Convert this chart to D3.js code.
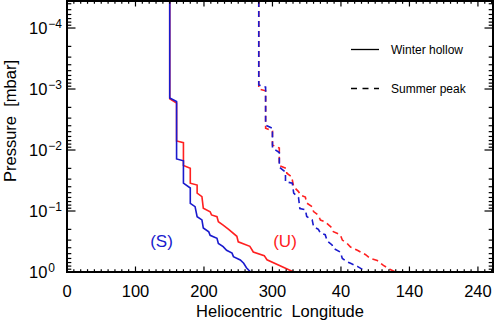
<!DOCTYPE html>
<html>
<head>
<meta charset="utf-8">
<script src="https://cdn.jsdelivr.net/npm/d3@7"></script>
<style>
  body { margin: 0; background: #fff; }
  svg { display: block; }
  text { font-family: "Liberation Sans", Arial, sans-serif; fill: #000; }
</style>
</head>
<body>
<div id="chart"></div>
<script>

// Axis ticks: longitude runs past 360, labels wrap back
var lsTicks = [0, 100, 200, 300, 400, 500, 600];
var lsTickLabels = ["0", "100", "200", "300", "40", "140", "240"];
var pTicks = [1e-4, 1e-3, 1e-2, 1e-1, 1];
var pTickExps = ["\u22124", "\u22123", "\u22122", "\u22121", "0"];

// [Ls, pressure (mbar)] vertices
// winter hollow (solid)
var winterS = [[150, 3.6e-5], [150, 1.4e-3], [160, 1.6e-3], [160, 1.4e-2], [170, 1.5e-2],
               [170, 3.5e-2], [180, 4.2e-2], [180, 7.5e-2], [187, 8.5e-2], [190, 0.124],
               [197, 0.14], [199, 0.19], [207, 0.22], [209, 0.25], [219, 0.28], [221, 0.34],
               [228, 0.385], [233, 0.44], [241, 0.49], [243, 0.56], [253, 0.635],
               [258, 0.72], [262, 0.85], [268, 1.0]];
var winterU = [[150, 3.6e-5], [150, 1.45e-3], [160, 1.7e-3], [160, 7.1e-3], [170, 7.6e-3],
               [170, 1.8e-2], [180, 2.0e-2], [180, 3.5e-2], [190, 3.75e-2], [190, 5.1e-2],
               [197, 5.8e-2], [199, 9.0e-2], [209, 0.103], [211, 0.116], [219, 0.124],
               [221, 0.15], [228, 0.17], [236, 0.20], [248, 0.26], [250, 0.32],
               [267, 0.38], [272, 0.47], [288, 0.54], [292, 0.63], [331, 1.0]];
// summer peak (dashed)
var summerS = [[280, 3.6e-5], [280, 8.6e-4], [290, 9.3e-4], [290, 3.9e-3], [300, 4.4e-3],
               [300, 9.3e-3], [310, 1.1e-2], [310, 1.9e-2], [319, 2.3e-2], [319, 3.3e-2],
               [329, 3.5e-2], [331, 5.1e-2], [338, 6.0e-2], [340, 9.1e-2], [348, 9.5e-2],
               [350, 0.123], [358, 0.14], [360, 0.18], [367, 0.20], [370, 0.23],
               [377, 0.245], [380, 0.31], [387, 0.36], [389, 0.41], [399, 0.47],
               [402, 0.60], [409, 0.68], [414, 0.72], [424, 0.81], [438, 1.0]];
var summerU = [[280, 3.6e-5], [280, 1.0e-3], [290, 1.07e-3], [290, 4.4e-3], [300, 4.9e-3],
               [300, 8.3e-3], [310, 9.3e-3], [310, 1.8e-2], [320, 2.0e-2], [321, 2.4e-2],
               [328, 2.75e-2], [331, 4.0e-2], [338, 4.8e-2], [341, 5.5e-2], [348, 5.9e-2],
               [350, 7.4e-2], [358, 8.5e-2], [360, 0.102], [367, 0.117], [370, 0.141],
               [377, 0.151], [387, 0.19], [389, 0.219], [399, 0.245], [402, 0.30],
               [409, 0.34], [414, 0.39], [424, 0.44], [436, 0.52], [443, 0.60],
               [453, 0.65], [462, 0.78], [472, 0.91], [480, 1.0]];

var series = [
    { data: winterU, colour: "#ff2020", dash: null },
    { data: winterS, colour: "#1a1acd", dash: null },
    { data: summerU, colour: "#ff2020", dash: "6,4" },
    { data: summerS, colour: "#1a1acd", dash: "6,4" }
];

var W = 498, H = 320;
var pLeft = 67, pRight = 493, pTop = 1, pBottom = 272;

var x = d3.scaleLinear().domain([0, 622]).range([pLeft, pRight]);
var y = d3.scaleLog().domain([Math.pow(10, -4.443), 1]).range([pTop, pBottom]);

var svg = d3.select("#chart").append("svg")
    .attr("width", W)
    .attr("height", H);

svg.append("clipPath").attr("id", "plotclip")
  .append("rect")
    .attr("x", pLeft).attr("y", pTop)
    .attr("width", pRight - pLeft).attr("height", pBottom - pTop);

// curves
var line = d3.line()
    .x(function(d) { return x(d[0]); })
    .y(function(d) { return y(d[1]); });

var curves = svg.append("g").attr("clip-path", "url(#plotclip)");
series.forEach(function(s) {
    curves.append("path")
        .datum(s.data)
        .attr("d", line)
        .attr("fill", "none")
        .attr("stroke", s.colour)
        .attr("stroke-width", 1.6)
        .attr("stroke-dasharray", s.dash);
});

// ticks: majors + minors on all four sides, pointing inward
var xMinor = d3.range(0, 623, 10).filter(function(v) { return v % 100 != 0; });
var yMinor = [];
[-5, -4, -3, -2, -1].forEach(function(e) {
    for (var k = 2; k <= 9; k++) {
        var v = k * Math.pow(10, e);
        if (v >= y.domain()[0] && v <= 1) yMinor.push(v);
    }
});

var tickG = svg.append("g").attr("stroke", "#000").attr("stroke-width", 1.2);

function xTicks(vals, len) {
    vals.forEach(function(v) {
        tickG.append("line").attr("x1", x(v)).attr("x2", x(v)).attr("y1", pBottom).attr("y2", pBottom - len);
        tickG.append("line").attr("x1", x(v)).attr("x2", x(v)).attr("y1", pTop).attr("y2", pTop + len);
    });
}
function yTicks(vals, len) {
    vals.forEach(function(v) {
        tickG.append("line").attr("y1", y(v)).attr("y2", y(v)).attr("x1", pLeft).attr("x2", pLeft + len);
        tickG.append("line").attr("y1", y(v)).attr("y2", y(v)).attr("x1", pRight).attr("x2", pRight - len);
    });
}
xTicks(lsTicks, 5.5);
xTicks(xMinor, 2.8);
yTicks(pTicks, 8.5);
yTicks(yMinor, 4.3);

// frame
svg.append("rect")
    .attr("x", pLeft).attr("y", pTop)
    .attr("width", pRight - pLeft).attr("height", pBottom - pTop)
    .attr("fill", "none")
    .attr("stroke", "#000")
    .attr("stroke-width", 2);

// tick labels
svg.append("g").selectAll("text")
    .data(lsTicks)
    .enter().append("text")
    .attr("x", function(d) { return x(d); })
    .attr("y", 297)
    .attr("text-anchor", "middle")
    .style("font-size", "16.5px")
    .text(function(d, i) { return lsTickLabels[i]; });

var yl = svg.append("g").selectAll("text")
    .data(pTicks)
    .enter().append("text")
    .attr("x", 29)
    .attr("y", function(d) { return y(d) + 5.8; })
    .style("font-size", "16.5px");
yl.append("tspan").text("10");
yl.append("tspan")
    .attr("dy", -5.5)
    .attr("dx", 1)
    .style("font-size", "12px")
    .text(function(d, i) { return pTickExps[i]; });

// axis titles
svg.append("text")
    .attr("x", (pLeft + pRight) / 2)
    .attr("y", 317)
    .attr("text-anchor", "middle")
    .style("font-size", "16.5px")
    .style("white-space", "pre")
    .text("Heliocentric  Longitude");

svg.append("text")
    .attr("transform", "translate(16,121) rotate(-90)")
    .attr("text-anchor", "middle")
    .style("font-size", "16.5px")
    .style("white-space", "pre")
    .text("Pressure  [mbar]");

// region labels
svg.append("text")
    .attr("x", 161.5).attr("y", 247)
    .attr("text-anchor", "middle")
    .style("font-size", "17px")
    .style("fill", "#1a1acd")
    .text("(S)");
svg.append("text")
    .attr("x", 285).attr("y", 247)
    .attr("text-anchor", "middle")
    .style("font-size", "17px")
    .style("fill", "#ff2020")
    .text("(U)");

// legend
var legend = [
    { label: "Winter hollow", dash: null, y: 49.5 },
    { label: "Summer peak", dash: "6,5.5", y: 88.5 }
];
var lg = svg.append("g");
legend.forEach(function(l) {
    lg.append("line")
        .attr("x1", 351).attr("x2", 379)
        .attr("y1", l.y).attr("y2", l.y)
        .attr("stroke", "#000")
        .attr("stroke-width", 1.3)
        .attr("stroke-dasharray", l.dash);
    lg.append("text")
        .attr("x", 391).attr("y", l.y + 4)
        .style("font-size", "12px")
        .text(l.label);
});

</script>
</body>
</html>
